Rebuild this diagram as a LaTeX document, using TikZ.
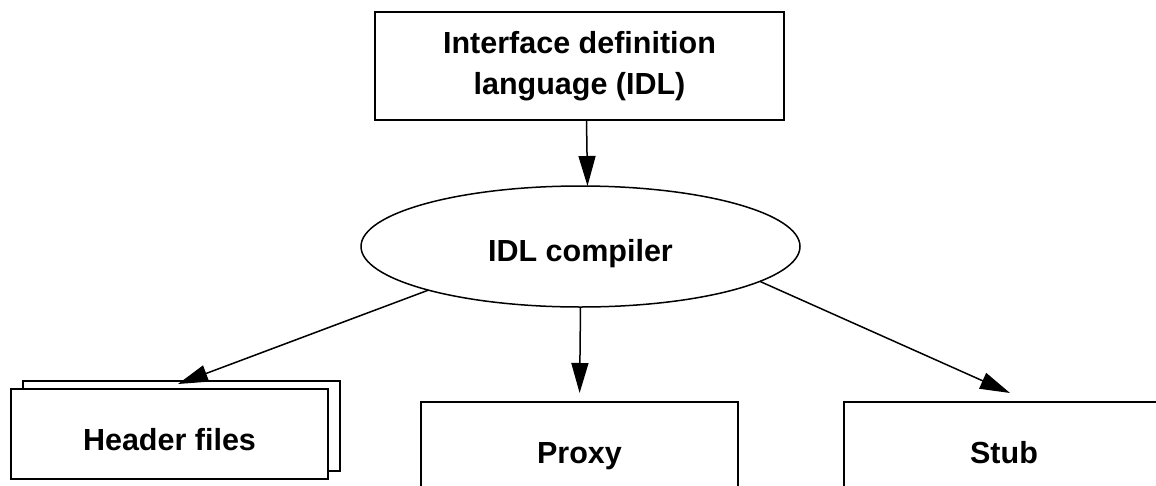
\documentclass[tikz,border=0pt]{standalone}
\usepackage{fontspec}
\setmainfont{Liberation Sans}
\usetikzlibrary{arrows.meta,shapes.geometric}
\begin{document}
\begin{tikzpicture}[x=1pt,y=-1pt,
  line width=1.5pt,
  label font/.style={font=\fontsize{30.5}{41.6}\selectfont\bfseries},
  box/.style={draw, fill=white, rectangle, inner sep=0pt, outer sep=0pt,
    label font, align=center},
  oneline/.style={text height=22pt, text depth=0pt},
  oval/.style={draw, fill=white, ellipse, inner sep=0pt, outer sep=0pt,
    minimum width=439pt, minimum height=121pt, label font},
  arrow/.style={-{Triangle[length=30pt,width=17pt]}, line width=1.5pt}
]
\useasboundingbox (0,0) rectangle (1156,485);
\begin{scope}
  \clip (0,0) rectangle (1156,485);

  % source box and compiler
  \node[box, minimum width=409pt, minimum height=108pt] (idl) at (579.5,66)
    {Interface definition\\language (IDL)};
  \node[oval, text height=30.6pt, text depth=0pt] (comp) at (580.5,246.5) {IDL compiler};

  % generated outputs
  \node[box, minimum width=317pt, minimum height=90pt] (hback) at (181.5,426) {};
  \node[box, minimum width=317pt, minimum height=90pt, text height=32.8pt, text depth=0pt]
    (hdr) at (169.5,434) {Header files};
  \node[box, oneline, minimum width=317pt, minimum height=100pt] (proxy) at (579.5,452) {Proxy};
  \node[box, oneline, minimum width=320pt, minimum height=100pt] (stub) at (1004,452) {Stub};

  % arrow end points above the output boxes
  \coordinate (htip) at (178,384);
  \coordinate (stip) at (1010,393);

  % connectors
  \draw[arrow] ([xshift=7pt]idl.south) -- ([xshift=7pt]comp.north);
  \draw[arrow] (comp.196) -- (htip);
  \draw[arrow, shorten >=9pt] (comp.south) -- (proxy.north);
  \draw[arrow] (comp.-11.8) -- (stip);
\end{scope}
\end{tikzpicture}
\end{document}
